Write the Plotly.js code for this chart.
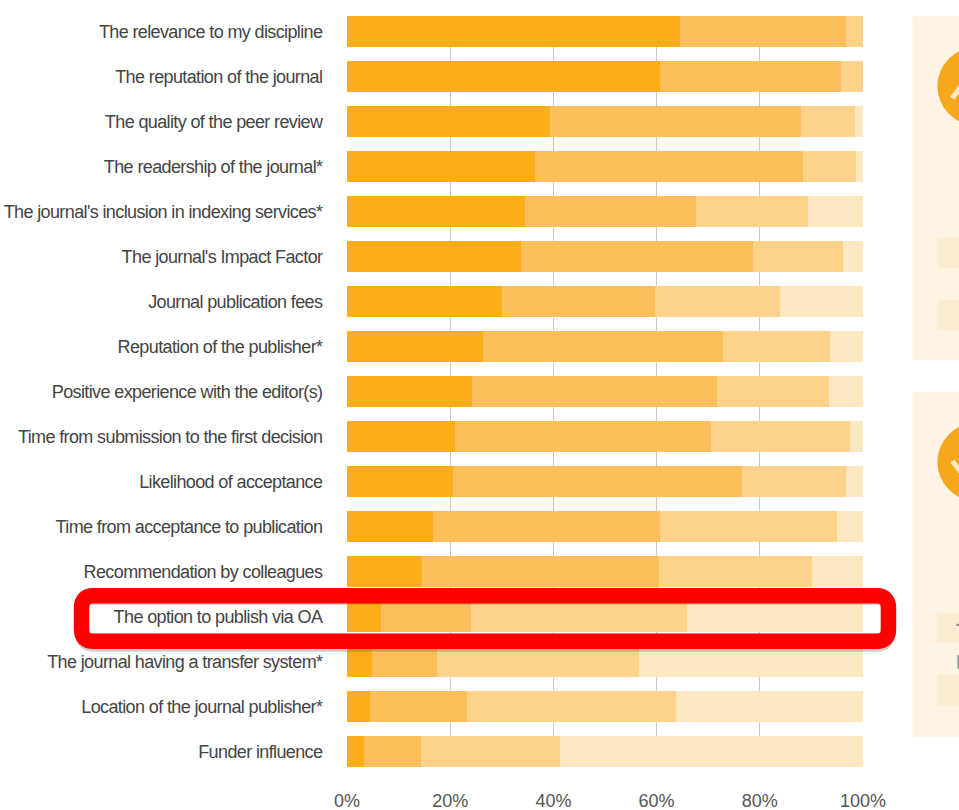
<!DOCTYPE html>
<html><head><meta charset="utf-8">
<script src="https://cdn.plot.ly/plotly-3.0.1.min.js"></script>
<style>html,body{margin:0;padding:0;background:#fff}#c{width:959px;height:810px}
.ytick text{letter-spacing:-0.62px}</style>
</head><body><div id="c"></div>
<script>
const categories = ["The relevance to my discipline","The reputation of the journal","The quality of the peer review","The readership of the journal*","The journal's inclusion in indexing services*","The journal's Impact Factor","Journal publication fees","Reputation of the publisher*","Positive experience with the editor(s)","Time from submission to the first decision","Likelihood of acceptance","Time from acceptance to publication","Recommendation by colleagues","The option to publish via OA","The journal having a transfer system*","Location of the journal publisher*","Funder influence"];
const veryImportant = [64.6,60.6,39.3,36.4,34.5,33.7,30.0,26.4,24.3,21.0,20.6,16.7,14.6,6.6,4.9,4.4,3.2];
const important = [32.2,35.2,48.6,52.0,33.1,44.9,29.6,46.4,47.4,49.6,56.0,43.9,45.8,17.4,12.6,18.9,11.2];
const somewhat = [3.2,4.2,10.5,10.2,21.8,17.6,24.4,20.8,21.8,26.8,20.2,34.3,29.7,41.8,39.0,40.4,26.9];
const notImportant = [0,0,1.6,1.4,10.6,3.8,16.0,6.4,6.5,2.6,3.2,5.1,9.9,34.2,43.5,36.3,58.7];
const seriesNames = ["Very important","Important","Somewhat important","Not important"];
const seriesColors = ["#FBAE19","#FDBE5C","#FDD38B","#FDE8C2"];
const xTicks = [0,20,40,60,80,100];
const xTickLabels = ["0%","20%","40%","60%","80%","100%"];
const W=959,H=810,L=346.5,R=95.5,T=15.75,B=42.75;
const px=x=>(x-L)/(W-L-R), py=y=>1-(y-T)/(H-T-B);
function rect(x0,y0,x1,y1,c){return {type:'rect',xref:'paper',yref:'paper',x0:px(x0),x1:px(x1),y0:py(y1),y1:py(y0),fillcolor:c,line:{width:0},layer:'above'};}
function circle(cx,cy,r,c){return {type:'circle',xref:'paper',yref:'paper',x0:px(cx-r),x1:px(cx+r),y0:py(cy+r),y1:py(cy-r),fillcolor:c,line:{width:0},layer:'above'};}
function rounded(x0,y0,x1,y1,r){const P=(x,y)=>px(x).toFixed(5)+','+py(y).toFixed(5);
 return 'M'+P(x0+r,y0)+' L'+P(x1-r,y0)+' Q'+P(x1,y0)+' '+P(x1,y0+r)+' L'+P(x1,y1-r)+' Q'+P(x1,y1)+' '+P(x1-r,y1)+' L'+P(x0+r,y1)+' Q'+P(x0,y1)+' '+P(x0,y1-r)+' L'+P(x0,y0+r)+' Q'+P(x0,y0)+' '+P(x0+r,y0)+' Z';}
const data = [veryImportant,important,somewhat,notImportant].map((v,i)=>({type:'bar',orientation:'h',y:categories,x:v,name:seriesNames[i],marker:{color:seriesColors[i],line:{width:0}},width:0.7,hoverinfo:'x+y'}));
const shapes=[
 rect(913,16,970,360,'#FEF4E3'),
 rect(913,392,970,737,'#FEF4E3'),
 rect(938,238,970,268,'#FCEDD2'),
 rect(938,300,970,330,'#FCEDD2'),
 rect(938,613,970,643,'#FCEDD2'),
 rect(938,675,970,706,'#FCEDD2'),
 rect(957,624,970,626,'#8a8a8a'),
 rect(958,655,970,669,'#9a9a9a'),
 circle(977,86,39,'#F5A81C'),
 circle(977,462,39,'#F5A81C'),
 {type:'line',xref:'paper',yref:'paper',x0:px(953),y0:py(98),x1:px(966),y1:py(80),line:{color:'#FDE8C2',width:5}},
 {type:'line',xref:'paper',yref:'paper',x0:px(953),y0:py(461),x1:px(966),y1:py(478),line:{color:'#FDE8C2',width:5}},
 {type:'path',xref:'paper',yref:'paper',path:rounded(81,598,889,645,12),line:{color:'rgba(90,50,30,0.25)',width:14},fillcolor:'rgba(0,0,0,0)',layer:'above'},
 {type:'path',xref:'paper',yref:'paper',path:rounded(80.5,596,889,641.5,12),line:{color:'#FF0000',width:15.5},fillcolor:'rgba(0,0,0,0)',layer:'above'}
];
const layout={width:W,height:H,barmode:'stack',showlegend:false,paper_bgcolor:'#fff',plot_bgcolor:'#fff',bargap:0.3,
 margin:{l:L,r:R,t:T,b:B,pad:0},
 font:{family:'"Liberation Sans",Arial,sans-serif',color:'#4a4a4a',size:18},
 xaxis:{range:[0,100],tickmode:'array',tickvals:xTicks,ticktext:xTickLabels,showgrid:true,gridcolor:'#c9c9c9',gridwidth:1,zeroline:false,showline:false,ticks:'outside',ticklen:17,tickcolor:'rgba(0,0,0,0)',tickfont:{size:18,color:'#555'},fixedrange:true},
 yaxis:{type:'category',categoryorder:'array',categoryarray:categories,range:[16.35,-0.35],showgrid:false,zeroline:false,showline:false,ticks:'outside',ticklen:20,tickcolor:'rgba(0,0,0,0)',tickfont:{size:18,color:'#444'},fixedrange:true},
 shapes:shapes};
Plotly.newPlot('c',data,layout,{displayModeBar:false,staticPlot:true});
</script></body></html>
